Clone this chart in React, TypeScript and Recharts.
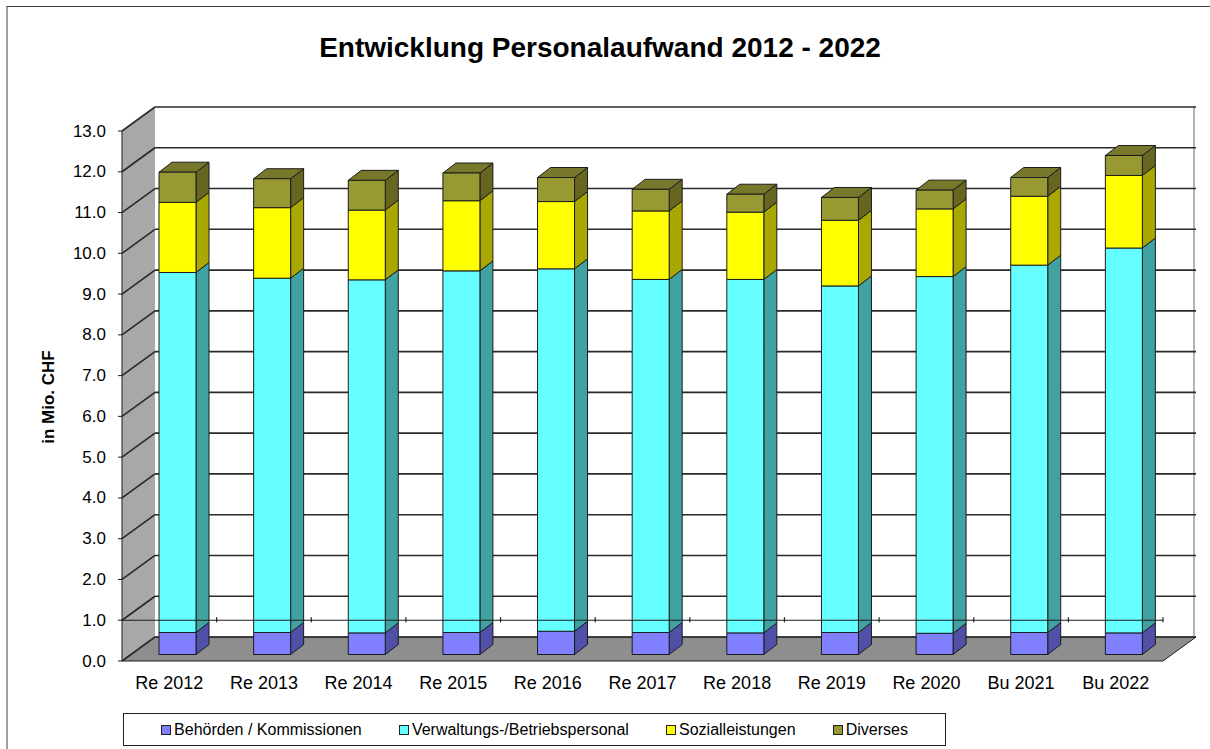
import React from "react";
import {
  Bar,
  BarChart,
  CartesianGrid,
  Legend,
  XAxis,
  YAxis,
} from "recharts";

const categories = [
  "Re 2012",
  "Re 2013",
  "Re 2014",
  "Re 2015",
  "Re 2016",
  "Re 2017",
  "Re 2018",
  "Re 2019",
  "Re 2020",
  "Bu 2021",
  "Bu 2022",
];
const seriesNames = [
  "Behörden / Kommissionen",
  "Verwaltungs-/Betriebspersonal",
  "Sozialleistungen",
  "Diverses",
];
const behoerden = [0.54, 0.54, 0.53, 0.54, 0.57, 0.54, 0.53, 0.54, 0.52, 0.54, 0.53];
const verwaltung = [8.83, 8.69, 8.66, 8.87, 8.89, 8.66, 8.67, 8.5, 8.75, 9.01, 9.44];
const sozial = [1.72, 1.73, 1.71, 1.72, 1.65, 1.68, 1.65, 1.61, 1.66, 1.69, 1.78];
const diverses = [0.74, 0.71, 0.73, 0.68, 0.59, 0.53, 0.44, 0.56, 0.46, 0.46, 0.49];
const yTicks = [0, 1, 2, 3, 4, 5, 6, 7, 8, 9, 10, 11, 12, 13];
const Y_MAX = 13;
const CATEGORY_AXIS_AT = 1; // Excel draws the category axis line at 1.0

const data = categories.map((name, i) => ({
  name,
  behoerden: behoerden[i],
  verwaltung: verwaltung[i],
  sozial: sozial[i],
  diverses: diverses[i],
}));

const W = 1210;
const H = 749;
const FONT = '"Liberation Sans", Arial, sans-serif';

// plot area = plane in which the bar fronts stand
const PLOT = { left: 130, right: 1171, top: 124.5, bottom: 654.5 };
const FRONT = { dx: -8, dy: 6.5 }; // front edge of the floor / value axis
const BACK = { dx: 25, dy: -17.5 }; // back wall
const DEPTH = { dx: 13, dy: -10 }; // depth of a bar

const FL = PLOT.left + FRONT.dx;
const FR = PLOT.right + FRONT.dx;
const FT = PLOT.top + FRONT.dy;
const FB = PLOT.bottom + FRONT.dy;
const BL = PLOT.left + BACK.dx;
const BR = PLOT.right + BACK.dx;
const BT = PLOT.top + BACK.dy;
const BB = PLOT.bottom + BACK.dy;

const GRID = "#2a2a2a";
const EDGE = "#1c1c1c";

function box(side: string, top?: string) {
  return (props: any) => {
    const { x, y, width, height, fill } = props;
    if (!height) return <g />;
    const { dx, dy } = DEPTH;
    const r = x + width;
    return (
      <g stroke={EDGE} strokeWidth={1} strokeLinejoin="round">
        <polygon
          points={`${r},${y} ${r + dx},${y + dy} ${r + dx},${y + height + dy} ${r},${y + height}`}
          fill={side}
        />
        {top && (
          <polygon
            points={`${x},${y} ${x + dx},${y + dy} ${r + dx},${y + dy} ${r},${y}`}
            fill={top}
          />
        )}
        <rect x={x} y={y} width={width} height={height} fill={fill} />
      </g>
    );
  };
}

function YTick(props: any) {
  const { y, payload } = props;
  const yy = y + FRONT.dy;
  return (
    <g>
      <line x1={FL - 4} y1={yy} x2={FL} y2={yy} stroke={EDGE} />
      <text
        x={106}
        y={yy}
        textAnchor="end"
        dominantBaseline="central"
        fontSize={17}
        fontFamily={FONT}
        fill="#000"
      >
        {Number(payload.value).toFixed(1)}
      </text>
    </g>
  );
}

function XTick(props: any) {
  const { x, payload } = props;
  return (
    <text
      x={x + FRONT.dx}
      y={FB + 22}
      textAnchor="middle"
      dominantBaseline="central"
      fontSize={18}
      fontFamily={FONT}
      fill="#000"
    >
      {payload.value}
    </text>
  );
}

function backGridLine(props: any) {
  const { x1, x2, y1, index } = props;
  return (
    <g key={`g-${index}`} stroke={GRID} strokeWidth={1.6}>
      <line x1={x1 + FRONT.dx} y1={y1 + FRONT.dy} x2={x1 + BACK.dx} y2={y1 + BACK.dy} />
      <line x1={x1 + BACK.dx} y1={y1 + BACK.dy} x2={x2 + BACK.dx} y2={y1 + BACK.dy} />
    </g>
  );
}

function LegendBox(props: any) {
  const items = [...(props.payload || [])].sort(
    (a: any, b: any) => seriesNames.indexOf(a.value) - seriesNames.indexOf(b.value)
  );
  return (
    <div
      style={{
        width: "100%",
        height: "100%",
        boxSizing: "border-box",
        border: "1px solid #222",
        display: "flex",
        alignItems: "center",
        justifyContent: "space-evenly",
        fontFamily: FONT,
        fontSize: 16,
        color: "#000",
        background: "#fff",
      }}
    >
      {items.map((p: any) => (
        <span key={p.value} style={{ display: "flex", alignItems: "center" }}>
          <span
            style={{
              width: 8,
              height: 8,
              background: p.color,
              border: "1px solid #222",
              marginRight: 3,
              display: "inline-block",
            }}
          />
          {p.value}
        </span>
      ))}
    </div>
  );
}

// front category axis line, drawn over the bars
function FrontAxis() {
  const y =
    PLOT.bottom - ((PLOT.bottom - PLOT.top) * CATEGORY_AXIS_AT) / Y_MAX + FRONT.dy;
  const step = (FR - FL) / categories.length;
  return (
    <svg
      width={W}
      height={H}
      style={{ position: "absolute", left: 0, top: 0, pointerEvents: "none" }}
    >
      <g stroke={EDGE} strokeWidth={1.2}>
        <line x1={FL} y1={y} x2={FR} y2={y} />
        {categories.map((c, i) => (
          <line key={c} x1={FL + step * (i + 1)} y1={y - 3} x2={FL + step * (i + 1)} y2={y + 2} />
        ))}
      </g>
    </svg>
  );
}

export default function App() {
  return (
    <div style={{ position: "absolute", left: 0, top: 0, width: W, height: H, background: "#fff" }}>
      <svg width={W} height={H} style={{ position: "absolute", left: 0, top: 0 }}>
        <rect x={7} y={6.5} width={1210} height={800} fill="#fff" stroke="#404040" />
        <text
          x={600}
          y={47}
          textAnchor="middle"
          dominantBaseline="central"
          fontSize={28}
          fontWeight="bold"
          fontFamily={FONT}
        >
          Entwicklung Personalaufwand 2012 - 2022
        </text>
        <text
          x={48}
          y={397}
          textAnchor="middle"
          dominantBaseline="central"
          fontSize={17}
          fontWeight="bold"
          fontFamily={FONT}
          transform="rotate(-90 48 397)"
        >
          in Mio. CHF
        </text>
        <rect x={BL} y={BT} width={BR - BL} height={BB - BT} fill="#fff" />
        <line x1={BR - 2} y1={BT} x2={BR - 2} y2={BB} stroke="#b4b4b4" strokeWidth={2} />
        <polygon
          points={`${FL},${FT} ${BL},${BT} ${BL},${BB} ${FL},${FB}`}
          fill="#a8a8a8"
        />
        <polygon
          points={`${FL},${FB} ${BL},${BB} ${BR},${BB} ${FR},${FB}`}
          fill="#8e8e8e"
          stroke={EDGE}
          strokeWidth={1}
        />
        <line x1={FL} y1={FT} x2={FL} y2={FB} stroke={EDGE} />
      </svg>
      <div style={{ position: "absolute", left: 0, top: 0 }}>
        <BarChart
          width={W}
          height={H}
          data={data}
          margin={{ top: PLOT.top, right: W - PLOT.right, bottom: H - PLOT.bottom - 30, left: PLOT.left - 60 }}
        >
          <CartesianGrid vertical={false} horizontal={backGridLine} />
          <XAxis
            dataKey="name"
            height={30}
            axisLine={false}
            tickLine={false}
            tick={<XTick />}
            interval={0}
          />
          <YAxis
            type="number"
            domain={[0, Y_MAX]}
            ticks={yTicks}
            width={60}
            axisLine={false}
            tickLine={false}
            tick={<YTick />}
            interval={0}
          />
          <Legend
            layout="horizontal"
            verticalAlign="middle"
            align="center"
            content={<LegendBox />}
            wrapperStyle={{ position: "absolute", left: 123, top: 713, width: 823, height: 33 }}
          />
          <Bar
            dataKey="behoerden"
            name={seriesNames[0]}
            stackId="a"
            fill="#8080ff"
            barSize={37}
            shape={box("#5050a8")}
            isAnimationActive={false}
          />
          <Bar
            dataKey="verwaltung"
            name={seriesNames[1]}
            stackId="a"
            fill="#66ffff"
            barSize={37}
            shape={box("#40a2a2")}
            isAnimationActive={false}
          />
          <Bar
            dataKey="sozial"
            name={seriesNames[2]}
            stackId="a"
            fill="#ffff00"
            barSize={37}
            shape={box("#a8a800")}
            isAnimationActive={false}
          />
          <Bar
            dataKey="diverses"
            name={seriesNames[3]}
            stackId="a"
            fill="#999933"
            barSize={37}
            shape={box("#666620", "#78782c")}
            isAnimationActive={false}
          />
        </BarChart>
      </div>
      <FrontAxis />
    </div>
  );
}
